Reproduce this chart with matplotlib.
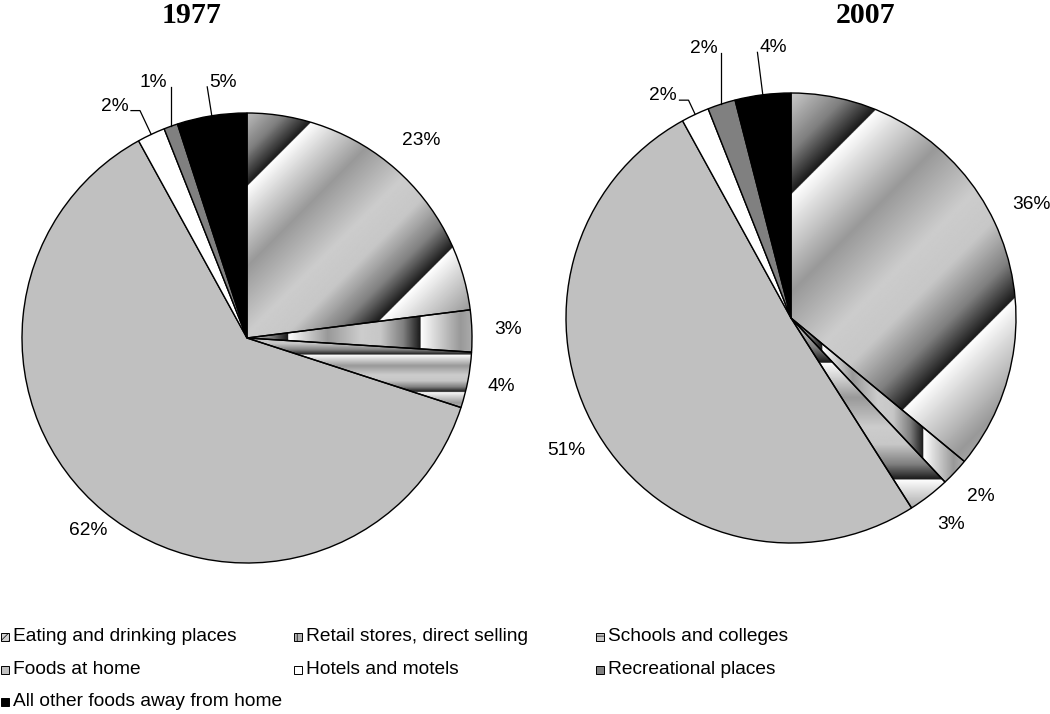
import matplotlib
matplotlib.use('Agg')
import matplotlib.pyplot as plt
import numpy as np
from matplotlib.patches import Wedge, Rectangle

# Data
categories = ['Eating and drinking places', 'Retail stores, direct selling', 'Schools and colleges',
              'Foods at home', 'Hotels and motels', 'Recreational places', 'All other foods away from home']
years = ['1977', '2007']
shares_1977 = [23, 3, 4, 62, 2, 1, 5]
shares_2007 = [36, 2, 3, 51, 2, 2, 4]

# fill style per category: gradient kind or solid colour
fills = ['diag', 'vert', 'horiz', '#c0c0c0', 'white', '#808080', 'black']
legend_hatch = ['////', '|||', '---', None, None, None, None]

W, H = 1050, 714
R = 225.0       # pie radius in pixels
HALF = 240.0    # half size of each pie axes in pixels
FS = 13.8

# gradient profile (fraction of period -> grey level)
prof_x = [0.0, 0.1, 0.3, 0.55, 0.7, 0.87, 1.0]
prof_y = [1.0, 0.86, 0.6, 0.8, 0.78, 0.5, 0.1]

# per pie: centre (px), gradient (period, edge) for diag / vert / horiz, leader lengths
pies = [
    dict(year='1977', shares=shares_1977, centre=(247, 338),
         grad={'diag': (0.84, -0.477), 'vert': (0.59, 0.77), 'horiz': (0.165, 0.076)},
         leader=[1.117, 0.173, 1.13], label_r=[1.17, 1.16, 1.15, 1.11]),
    dict(year='2007', shares=shares_2007, centre=(791, 318),
         grad={'diag': (1.03, -0.39), 'vert': (0.45, 0.587), 'horiz': (0.52, 0.2)},
         leader=[1.07, 0.227, 1.19], label_r=[1.18, 1.16, 1.16, 1.16]),
]

plt.rcParams['font.family'] = ['Liberation Sans', 'DejaVu Sans']
plt.rcParams['hatch.linewidth'] = 0.5
fig = plt.figure(figsize=(W / 100, H / 100), dpi=100)

n = 700
g = np.linspace(-1.02, 1.02, n)
X, Y = np.meshgrid(g, g)


def gradient(kind, period, edge):
    if kind == 'diag':
        s = (X - Y) / np.sqrt(2)
    elif kind == 'vert':
        s = X
    else:
        s = -Y
    frac = np.mod((s - edge) / period, 1.0)
    return np.interp(frac, prof_x, prof_y)


def polar(a_deg, r):
    a = np.radians(a_deg)
    return r * np.sin(a), r * np.cos(a)


for p in pies:
    cx, cy = p['centre']
    ax = fig.add_axes([(cx - HALF) / W, (H - cy - HALF) / H, 2 * HALF / W, 2 * HALF / H])
    lim = HALF / R
    ax.axis('off')

    shares = p['shares']
    total = float(sum(shares))
    start = 0.0  # clockwise from 12 o'clock
    mids = []
    for i, v in enumerate(shares):
        span = 360.0 * v / total
        t1, t2 = 90 - (start + span), 90 - start
        f = fills[i]
        if f in ('diag', 'vert', 'horiz'):
            w = Wedge((0, 0), 1, t1, t2, facecolor='none', edgecolor='black', lw=1.0, zorder=3)
            ax.add_patch(w)
            per, edge = p['grad'][f]
            im = ax.imshow(gradient(f, per, edge), extent=(-1.02, 1.02, -1.02, 1.02), origin='lower',
                           cmap='gray', vmin=0, vmax=1, interpolation='bilinear', zorder=1)
            im.set_clip_path(w)
        else:
            w = Wedge((0, 0), 1, t1, t2, facecolor=f, edgecolor='black', lw=1.0, zorder=2)
            ax.add_patch(w)
        mids.append(start + span / 2)
        start += span
    ax.set_xlim(-lim, lim)
    ax.set_ylim(-lim, lim)

    # percentage labels
    for i, v in enumerate(shares):
        txt = f'{v}%'
        if i < 4:
            x, y = polar(mids[i], p['label_r'][i])
            ax.text(x, y, txt, ha='center', va='center', fontsize=FS)
            continue
        k = i - 4
        x0, y0 = polar(mids[i], 1.0)
        if k == 0:
            # radial then short horizontal run, label to the left
            x1, y1 = polar(mids[i], p['leader'][k])
            x2 = x1 - 0.04
            ax.plot([x0, x1, x2], [y0, y1, y1], color='black', lw=0.9, clip_on=False)
            ax.text(x2 - 0.012, y1, txt, ha='right', va='baseline', fontsize=FS)
        elif k == 1:
            # vertical line, label to the left of its top
            x1, y1 = x0, y0 + p['leader'][k]
            ax.plot([x0, x1], [y0, y1], color='black', lw=0.9, clip_on=False)
            ax.text(x1 - 0.018, y1, txt, ha='right', va='baseline', fontsize=FS)
        else:
            # radial line, label to the right of its top
            x1, y1 = polar(mids[i], p['leader'][k])
            ax.plot([x0, x1], [y0, y1], color='black', lw=0.9, clip_on=False)
            ax.text(x1 + 0.01, y1, txt, ha='left', va='baseline', fontsize=FS)

# titles
title_x = [192, 866]
for yr, tx in zip(years, title_x):
    fig.text(tx / W, 1 - 23 / H, yr, ha='center', va='baseline', fontsize=21.5,
             fontweight='bold', family='Liberation Serif')

# legend drawn by hand, three columns
col_x = [1, 294, 596]
row_y = [636.5, 670, 702]
box = 8
for i, lab in enumerate(categories):
    r, c = divmod(i, 3)
    f = fills[i]
    fc = {'diag': '#d0d0d0', 'vert': '#b0b0b0', 'horiz': '#c8c8c8'}.get(f, f)
    rect = Rectangle((col_x[c] / W, (H - row_y[r] - box / 2) / H), box / W, box / H,
                     transform=fig.transFigure, facecolor=fc, edgecolor='black', lw=0.7,
                     hatch=legend_hatch[i])
    fig.patches.append(rect)
    fig.text((col_x[c] + box + 4) / W, (H - row_y[r]) / H, lab, ha='left', va='center', fontsize=FS)

fig.savefig('out.png', dpi=100, facecolor='white')
